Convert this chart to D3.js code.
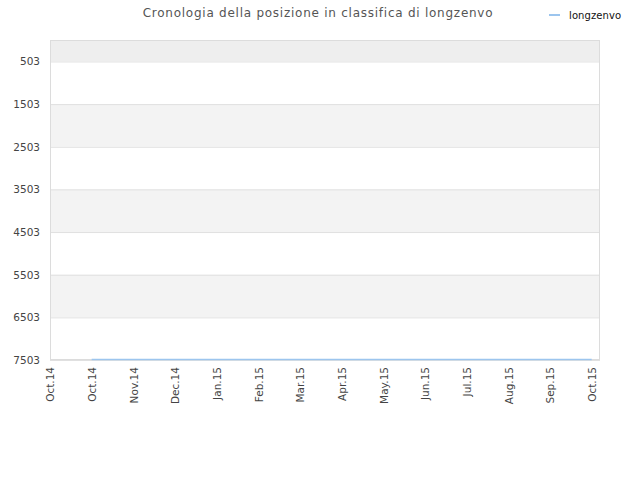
<!DOCTYPE html>
<html>
<head>
<meta charset="utf-8">
<script src="https://cdn.jsdelivr.net/npm/d3@7"></script>
<style>
  body { margin: 0; background: #fff; }
  text { font-family: "DejaVu Sans", sans-serif; }
</style>
</head>
<body>
<div id="chart"></div>
<script>
// Month labels along the x axis (the first Oct.14 is the domain start)
const monthLabels = ['Oct.14', 'Oct.14', 'Nov.14', 'Dec.14', 'Jan.15', 'Feb.15', 'Mar.15',
  'Apr.15', 'May.15', 'Jun.15', 'Jul.15', 'Aug.15', 'Sep.15', 'Oct.15'];
// Rank ticks on the y axis
const rankTicks = [503, 1503, 2503, 3503, 4503, 5503, 6503, 7503];
// Ranking of longzenvo, one value per month from the second tick on
const seriesMonths = [1, 2, 3, 4, 5, 6, 7, 8, 9, 10, 11, 12, 13];
const seriesRanks = [7490, 7490, 7490, 7490, 7490, 7490, 7490, 7490, 7490, 7490, 7490, 7490, 7490];
const seriesName = 'longzenvo';

const width = 640, height = 480;
const margin = {top: 40, right: 40, bottom: 120, left: 50};
const plotW = width - margin.left - margin.right;
const plotH = height - margin.top - margin.bottom;

const svg = d3.select('#chart').append('svg')
  .attr('width', width)
  .attr('height', height);

// Title
svg.append('text')
  .attr('x', 318).attr('y', 17)
  .attr('text-anchor', 'middle')
  .attr('fill', '#555')
  .attr('font-size', 12)
  .attr('letter-spacing', 0.75)
  .text('Cronologia della posizione in classifica di ' + seriesName);

// Legend
const legend = svg.append('g').attr('transform', 'translate(549,15)');
legend.append('line')
  .attr('x1', 0).attr('x2', 11)
  .attr('stroke', '#9cc5ee').attr('stroke-width', 2);
legend.append('text')
  .attr('x', 20).attr('y', 4)
  .attr('font-size', 10)
  .attr('letter-spacing', 0.1)
  .attr('fill', '#111')
  .text(seriesName);

const chart = svg.append('g')
  .attr('transform', `translate(${margin.left},${margin.top})`);

const x = d3.scalePoint()
  .domain(d3.range(monthLabels.length))
  .range([0, 541.7]);

const y = d3.scaleLinear()
  .domain([0, 7503])
  .range([0, plotH]);

// Background bands between the rank ticks
const bandEdges = [0].concat(rankTicks);
chart.selectAll('.band')
  .data(d3.pairs(bandEdges))
  .join('rect')
  .attr('class', 'band')
  .attr('x', 0)
  .attr('width', plotW)
  .attr('y', d => y(d[0]))
  .attr('height', d => y(d[1]) - y(d[0]))
  .attr('fill', (d, i) => i === 0 ? '#eeeeee' : (i % 2 === 0 ? '#f3f3f3' : '#ffffff'));

// Grid lines
chart.selectAll('.grid')
  .data(rankTicks)
  .join('line')
  .attr('class', 'grid')
  .attr('x1', 0).attr('x2', plotW)
  .attr('y1', d => y(d) + 0.5).attr('y2', d => y(d) + 0.5)
  .attr('stroke', '#e0e0e0');

// Plot frame
chart.append('rect')
  .attr('x', 0.5).attr('y', 0.5)
  .attr('width', plotW - 1).attr('height', plotH - 1)
  .attr('fill', 'none')
  .attr('stroke', '#dcdcdc');

// Y axis
const yAxis = d3.axisLeft(y).tickValues(rankTicks).tickFormat(d3.format('d')).tickSize(0).tickPadding(10);
chart.append('g')
  .call(yAxis)
  .call(g => g.select('.domain').remove())
  .selectAll('text')
  .attr('font-size', 10.5)
  .attr('fill', '#444')
  .attr('font-family', '"DejaVu Sans", sans-serif');

// X axis
const xAxis = d3.axisBottom(x).tickFormat(i => monthLabels[i]).tickSize(0).tickPadding(6);
chart.append('g')
  .attr('transform', `translate(0,${plotH})`)
  .call(xAxis)
  .call(g => g.select('.domain').remove())
  .selectAll('text')
  .attr('font-size', 10.5)
  .attr('fill', '#444')
  .attr('font-family', '"DejaVu Sans", sans-serif')
  .attr('text-anchor', 'end')
  .attr('dy', '0.35em')
  .attr('transform', 'rotate(-90)')
  .attr('x', -7)
  .attr('y', 0);

// Series line
const line = d3.line()
  .x((d, i) => x(seriesMonths[i]))
  .y(d => y(d));

chart.append('path')
  .datum(seriesRanks)
  .attr('d', line)
  .attr('fill', 'none')
  .attr('stroke', '#9cc5ee')
  .attr('stroke-width', 1.5);
</script>
</body>
</html>
